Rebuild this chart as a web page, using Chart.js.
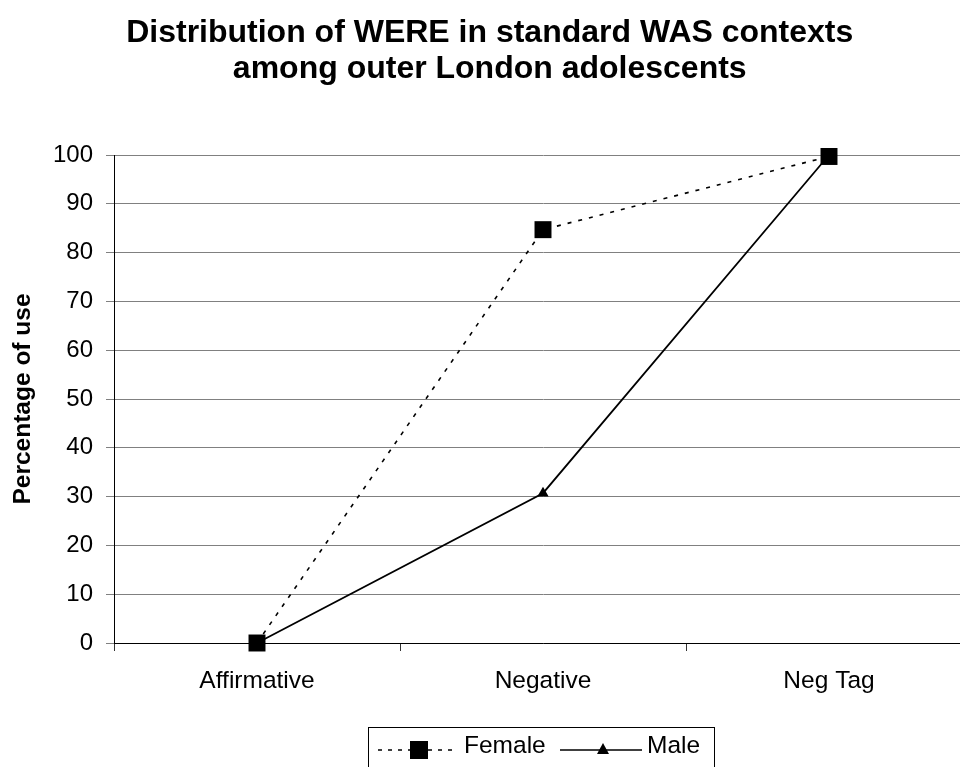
<!DOCTYPE html>
<html>
<head>
<meta charset="utf-8">
<script src="https://cdn.jsdelivr.net/npm/chart.js@4/dist/chart.umd.min.js"></script>
<style>
  html, body { margin: 0; padding: 0; background: #fff; }
  #wrap { width: 960px; height: 767px; overflow: hidden; position: relative; }
  canvas { display: block; }
</style>
</head>
<body>
<div id="wrap"><canvas id="chart" width="984" height="767"></canvas></div>
<script>
// chart data
const categories = ["Affirmative", "Negative", "Neg Tag"];
const femaleValues = [0, 84.7, 99.7];
const maleValues = [0, 30.7, 100];
const seriesNames = ["Female", "Male"];
const titleLines = ["Distribution of WERE in standard WAS contexts", "among outer London adolescents"];
const yAxisTitle = "Percentage of use";

const FONT = '"Liberation Sans", Arial, sans-serif';
Chart.defaults.font.family = FONT;
Chart.defaults.color = "#000";

// legend inside a bordered box, the plot is cut off on the right like the original
const boxLegend = {
  id: "boxLegend",
  afterDraw(chart) {
    const ctx = chart.ctx;
    ctx.save();
    ctx.strokeStyle = "#000";
    ctx.lineWidth = 1;
    ctx.setLineDash([]);
    ctx.strokeRect(368.5, 727.5, 346, 60);

    const y = 750;
    // female sample
    ctx.lineWidth = 1.5;
    ctx.setLineDash([4, 6]);
    ctx.beginPath();
    ctx.moveTo(378, y);
    ctx.lineTo(456, y);
    ctx.stroke();
    ctx.setLineDash([]);
    ctx.fillStyle = "#000";
    ctx.fillRect(410, y - 9, 18, 18);

    // male sample
    ctx.beginPath();
    ctx.moveTo(560, y);
    ctx.lineTo(642, y);
    ctx.stroke();
    ctx.beginPath();
    ctx.moveTo(603, y - 7);
    ctx.lineTo(609, y + 4);
    ctx.lineTo(597, y + 4);
    ctx.closePath();
    ctx.fill();

    ctx.font = "24.5px " + FONT;
    ctx.textBaseline = "middle";
    ctx.textAlign = "left";
    ctx.fillText(seriesNames[0], 464, y - 4);
    ctx.fillText(seriesNames[1], 647, y - 4);
    ctx.restore();
  }
};

const ctx = document.getElementById("chart").getContext("2d");
const lineChart = new Chart(ctx, {
  type: "line",
  data: {
    labels: categories,
    datasets: [
      {
        label: seriesNames[0],
        data: femaleValues,
        borderColor: "#000",
        backgroundColor: "#000",
        borderWidth: 1.6,
        borderDash: [4, 7],
        pointStyle: "rect",
        pointRadius: 12,
        pointBorderWidth: 0,
        clip: false,
      },
      {
        label: seriesNames[1],
        data: maleValues,
        borderColor: "#000",
        backgroundColor: "#000",
        borderWidth: 1.8,
        pointStyle: "triangle",
        pointRadius: 6.5,
        pointBorderWidth: 0,
        clip: false,
      },
    ],
  },
  options: {
    responsive: false,
    animation: false,
    devicePixelRatio: 1,
    layout: { padding: { left: 0, right: 4.5, top: 0, bottom: 0 } },
    plugins: {
      legend: { display: false },
      tooltip: { enabled: false },
      title: {
        display: true,
        text: titleLines,
        color: "#000",
        font: { size: 32, weight: "bold", lineHeight: 1.125 },
        padding: { top: 15, bottom: 68 },
      },
    },
    scales: {
      x: {
        type: "category",
        offset: true,
        grid: { offset: true, drawOnChartArea: false, drawTicks: true, tickLength: 8, color: "#333" },
        border: { color: "#000", width: 1 },
        ticks: { font: { size: 24.5 }, color: "#000", padding: 16, maxRotation: 0 },
        afterFit(scale) { scale.height = 124; },
      },
      y: {
        min: 0,
        max: 100,
        ticks: { stepSize: 10, font: { size: 24 }, color: "#000", padding: 13 },
        grid: { color: "#808080", lineWidth: 1, tickLength: 8 },
        border: { color: "#000", width: 1 },
        title: {
          display: true,
          text: yAxisTitle,
          color: "#000",
          font: { size: 24.5, weight: "bold", lineHeight: 1.2 },
          padding: { top: 9, bottom: 0 },
        },
        afterFit(scale) { scale.width = 114; },
      },
    },
  },
  plugins: [boxLegend],
});
</script>
</body>
</html>
